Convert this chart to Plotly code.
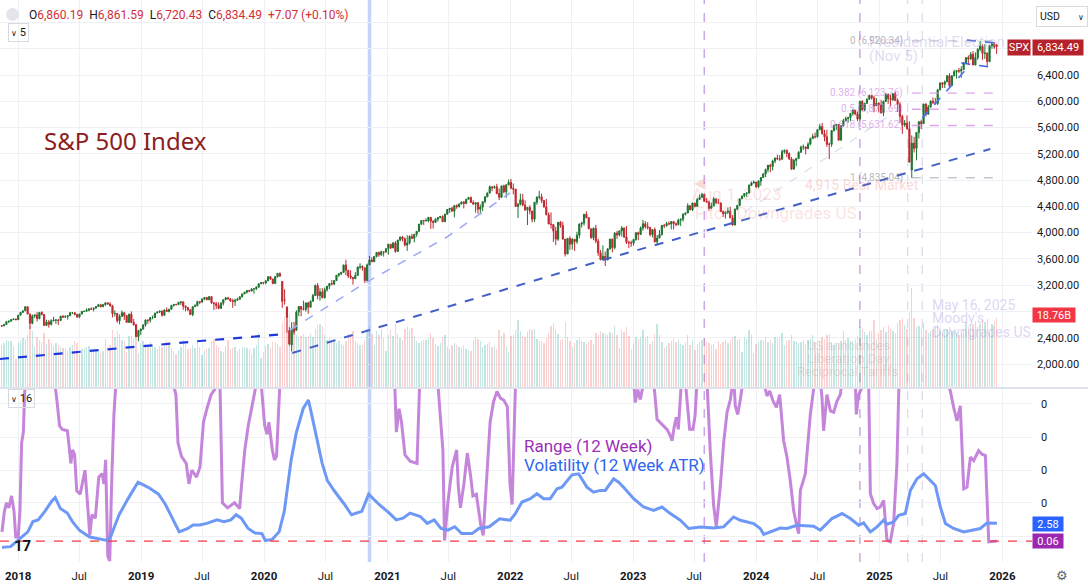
import numpy as np
import pandas as pd
import plotly.graph_objects as go

FONT = "Roboto, 'Noto Sans', sans-serif"
W_PLOT, H_PLOT = 1032, 562   # plot area in px, figure is 1088 x 587

# ---- weekly S&P 500 bars, first week starts 2017-11-13 ----
opens = [
    2583, 2579, 2602, 2642, 2652, 2676, 2684,
    2674, 2743, 2786, 2810, 2873, 2762, 2620, 2732, 2747, 2691, 2786, 2752, 2588, 2641, 2604, 2656, 2670, 2670, 2663, 2728, 2713, 2721, 2735, 2779, 2780, 2755, 2718, 2760, 2801, 2802, 2819, 2840, 2833, 2850, 2875, 2902, 2872, 2904, 2930, 2914, 2886, 2767, 2768, 2659, 2723, 2781, 2736, 2633, 2760, 2633, 2600, 2417, 2507,
    2532, 2596, 2671, 2665, 2707, 2708, 2776, 2793, 2804, 2743, 2822, 2800, 2834, 2893, 2907, 2905, 2940, 2946, 2881, 2860, 2826, 2752, 2873, 2887, 2950, 2942, 2990, 3014, 2977, 3026, 2932, 2919, 2889, 2847, 2926, 2979, 3007, 2992, 2962, 2952, 2970, 2986, 3023, 3067, 3093, 3120, 3110, 3141, 3146, 3169, 3221, 3240,
    3235, 3265, 3330, 3295, 3226, 3328, 3380, 3257, 2974, 2864, 2509, 2290, 2541, 2514, 2790, 2875, 2837, 2831, 2930, 2864, 2955, 3044, 3194, 3041, 3098, 3009, 3130, 3185, 3225, 3216, 3271, 3351, 3373, 3397, 3508, 3427, 3341, 3319, 3298, 3348, 3477, 3484, 3465, 3270, 3509, 3585, 3558, 3638, 3699, 3663, 3709, 3703,
    3756, 3825, 3768, 3841, 3714, 3887, 3934, 3907, 3811, 3842, 3943, 3913, 3975, 4020, 4129, 4185, 4180, 4181, 4233, 4174, 4156, 4204, 4230, 4247, 4166, 4281, 4352, 4370, 4327, 4412, 4395, 4437, 4468, 4442, 4509, 4535, 4459, 4433, 4455, 4357, 4391, 4471, 4545, 4605, 4697, 4683, 4698, 4595, 4538, 4712, 4621, 4726,
    4766, 4677, 4663, 4398, 4432, 4501, 4419, 4349, 4385, 4329, 4204, 4463, 4543, 4546, 4488, 4392, 4272, 4132, 4123, 4024, 3901, 4158, 4109, 3901, 3675, 3912, 3825, 3899, 3863, 3962, 4130, 4145, 4280, 4228, 4058, 3924, 4067, 3873, 3693, 3586, 3640, 3583, 3753, 3901, 3771, 3993, 3965, 4026, 4072, 3934, 3852, 3845,
    3840, 3895, 3999, 3973, 4071, 4136, 4090, 4079, 3970, 4046, 3862, 3917, 3971, 4109, 4105, 4138, 4133, 4169, 4136, 4124, 4192, 4205, 4282, 4299, 4410, 4348, 4450, 4399, 4505, 4536, 4582, 4478, 4464, 4370, 4406, 4516, 4457, 4450, 4320, 4288, 4309, 4328, 4224, 4117, 4358, 4415, 4514, 4559, 4595, 4604, 4719, 4755,
    4770, 4697, 4784, 4840, 4891, 4959, 5027, 5006, 5089, 5137, 5124, 5117, 5234, 5254, 5204, 5123, 4967, 5100, 5128, 5223, 5303, 5305, 5278, 5347, 5432, 5465, 5460, 5567, 5615, 5505, 5459, 5346, 5344, 5554, 5634, 5648, 5408, 5626, 5703, 5738, 5751, 5815, 5865, 5808, 5729, 5996, 5870, 5970, 6032, 6090, 6051, 5931, 5971,
    5942, 5827, 5997, 6101, 6041, 6026, 6115, 6013, 5955, 5770, 5639, 5668, 5581, 4953, 5363, 5283, 5525, 5687, 5660, 5958, 5803, 5912, 6000, 5977, 5967, 6173, 6280, 6259, 6297, 6389, 6238, 6389, 6450, 6467, 6460, 6482, 6584, 6664, 6644, 6716, 6553, 6664, 6792, 6840, 6729, 6734, 6603, 6849, 6870, 6860.19,
]
highs = [
    2590, 2605, 2657, 2660, 2680, 2695, 2692,
    2743, 2787, 2810, 2873, 2873, 2763, 2754, 2747, 2789, 2786, 2802, 2761, 2674, 2672, 2680, 2718, 2682, 2683, 2732, 2743, 2742, 2736, 2791, 2790, 2790, 2764, 2764, 2804, 2812, 2848, 2841, 2863, 2856, 2877, 2916, 2916, 2912, 2941, 2939, 2940, 2894, 2817, 2779, 2756, 2815, 2795, 2747, 2760, 2800, 2685, 2601, 2520, 2538,
    2597, 2675, 2670, 2708, 2738, 2776, 2795, 2814, 2816, 2831, 2861, 2836, 2894, 2910, 2916, 2940, 2954, 2931, 2892, 2865, 2829, 2876, 2910, 2964, 2955, 2996, 3014, 3018, 3028, 3027, 2943, 2943, 2939, 2940, 2985, 3021, 3022, 3002, 2993, 2993, 3008, 3027, 3068, 3098, 3121, 3127, 3154, 3146, 3183, 3226, 3247, 3246,
    3282, 3330, 3338, 3293, 3341, 3385, 3393, 3259, 3137, 2882, 2562, 2637, 2641, 2819, 2880, 2871, 2965, 2934, 2946, 2968, 3068, 3211, 3233, 3155, 3155, 3165, 3187, 3233, 3280, 3272, 3352, 3387, 3399, 3510, 3588, 3425, 3428, 3320, 3398, 3482, 3534, 3502, 3464, 3529, 3645, 3628, 3645, 3699, 3712, 3726, 3712, 3760,
    3827, 3824, 3860, 3870, 3887, 3937, 3950, 3928, 3960, 3960, 3983, 3978, 4020, 4130, 4191, 4195, 4219, 4238, 4236, 4187, 4219, 4233, 4255, 4262, 4287, 4355, 4372, 4394, 4415, 4430, 4441, 4468, 4480, 4513, 4546, 4549, 4492, 4465, 4466, 4429, 4475, 4559, 4608, 4718, 4706, 4718, 4743, 4672, 4713, 4731, 4740, 4808,
    4818, 4749, 4632, 4453, 4595, 4590, 4490, 4386, 4417, 4327, 4465, 4546, 4637, 4594, 4471, 4513, 4308, 4308, 4082, 4090, 4158, 4177, 4168, 3838, 3913, 3946, 3919, 3876, 4013, 4140, 4167, 4281, 4325, 4203, 4062, 4077, 4119, 3907, 3736, 3807, 3712, 3762, 3905, 3911, 4008, 4028, 4034, 4100, 4053, 4101, 3878, 3878,
    3906, 4003, 4015, 4095, 4195, 4176, 4160, 4072, 4049, 4078, 3964, 4040, 4110, 4133, 4164, 4170, 4170, 4167, 4154, 4212, 4212, 4291, 4299, 4448, 4400, 4458, 4456, 4527, 4578, 4607, 4584, 4528, 4490, 4458, 4541, 4518, 4511, 4462, 4338, 4324, 4385, 4394, 4268, 4367, 4415, 4520, 4560, 4596, 4609, 4738, 4778, 4793,
    4754, 4798, 4842, 4907, 4976, 5030, 5048, 5111, 5140, 5189, 5180, 5262, 5265, 5264, 5222, 5151, 5123, 5139, 5239, 5325, 5342, 5315, 5376, 5447, 5506, 5524, 5570, 5655, 5669, 5567, 5566, 5370, 5563, 5643, 5651, 5651, 5636, 5733, 5767, 5765, 5822, 5878, 5862, 5843, 6012, 6018, 5972, 6044, 6099, 6089, 6086, 6049, 5986,
    6022, 6012, 6128, 6120, 6101, 6127, 6147, 6043, 5986, 5795, 5715, 5786, 5695, 5481, 5460, 5528, 5700, 5720, 5959, 5969, 5944, 6017, 6059, 6050, 6187, 6285, 6291, 6316, 6395, 6428, 6396, 6481, 6470, 6509, 6533, 6600, 6671, 6699, 6750, 6764, 6744, 6808, 6920, 6868, 6870, 6743, 6853, 6895, 6901, 6861.59,
]
lows = [
    2566, 2576, 2598, 2624, 2650, 2676, 2673,
    2673, 2743, 2780, 2808, 2759, 2533, 2605, 2699, 2647, 2681, 2742, 2585, 2585, 2553, 2586, 2652, 2612, 2594, 2655, 2707, 2707, 2676, 2735, 2760, 2742, 2699, 2698, 2757, 2790, 2800, 2802, 2825, 2802, 2848, 2873, 2864, 2868, 2886, 2903, 2874, 2710, 2723, 2628, 2604, 2722, 2671, 2631, 2631, 2621, 2583, 2409, 2346, 2443,
    2524, 2570, 2612, 2631, 2681, 2700, 2773, 2775, 2722, 2732, 2800, 2785, 2848, 2873, 2891, 2896, 2900, 2825, 2801, 2805, 2750, 2729, 2874, 2881, 2912, 2964, 2970, 2975, 2975, 2914, 2822, 2836, 2834, 2853, 2891, 2978, 2985, 2946, 2855, 2884, 2959, 2983, 3013, 3066, 3075, 3092, 3115, 3070, 3125, 3184, 3223, 3212,
    3214, 3263, 3281, 3214, 3234, 3315, 3328, 2855, 2902, 2478, 2280, 2192, 2447, 2630, 2728, 2727, 2816, 2798, 2766, 2904, 2969, 3038, 2984, 2965, 3000, 3000, 3102, 3142, 3200, 3204, 3284, 3327, 3354, 3387, 3349, 3310, 3292, 3209, 3297, 3355, 3441, 3420, 3233, 3279, 3511, 3551, 3576, 3622, 3633, 3647, 3636, 3706,
    3663, 3750, 3764, 3694, 3716, 3870, 3866, 3789, 3723, 3819, 3900, 3853, 3936, 4026, 4118, 4118, 4173, 4157, 4056, 4062, 4155, 4168, 4217, 4164, 4173, 4274, 4300, 4321, 4233, 4363, 4385, 4429, 4368, 4442, 4513, 4455, 4427, 4306, 4288, 4278, 4329, 4447, 4540, 4595, 4630, 4672, 4585, 4495, 4531, 4600, 4531, 4733,
    4662, 4582, 4395, 4222, 4414, 4402, 4330, 4115, 4279, 4157, 4162, 4424, 4506, 4450, 4381, 4267, 4129, 4062, 3859, 3810, 3876, 4074, 3900, 3637, 3705, 3738, 3742, 3722, 3830, 3913, 4079, 4107, 4218, 4057, 3907, 3886, 3837, 3647, 3584, 3636, 3492, 3590, 3738, 3699, 3745, 3906, 3942, 3938, 3918, 3827, 3764, 3784,
    3802, 3877, 3885, 3968, 4031, 4060, 4048, 3943, 3928, 3847, 3809, 3917, 3955, 4069, 4092, 4114, 4049, 4048, 4098, 4109, 4103, 4167, 4261, 4328, 4341, 4328, 4385, 4397, 4501, 4528, 4474, 4457, 4335, 4356, 4403, 4432, 4447, 4316, 4238, 4216, 4284, 4223, 4104, 4112, 4341, 4402, 4514, 4537, 4546, 4599, 4709, 4751,
    4682, 4682, 4714, 4844, 4845, 4918, 4920, 4946, 5057, 5104, 5091, 5114, 5203, 5146, 5107, 4953, 4990, 5011, 5142, 5218, 5257, 5191, 5279, 5330, 5446, 5434, 5445, 5570, 5497, 5390, 5306, 5120, 5306, 5540, 5561, 5403, 5403, 5614, 5703, 5674, 5700, 5782, 5786, 5697, 5696, 5853, 5853, 5960, 6024, 6025, 5832, 5933, 5829,
    5809, 5773, 5990, 5962, 5923, 6004, 6008, 5837, 5667, 5505, 5611, 5572, 5069, 4835, 5220, 5101, 5434, 5578, 5786, 5768, 5809, 5907, 5963, 5949, 5944, 6172, 6201, 6202, 6290, 6212, 6251, 6380, 6344, 6431, 6360, 6480, 6570, 6551, 6631, 6550, 6550, 6632, 6760, 6631, 6646, 6521, 6600, 6799, 6800, 6720.43,
]
closes = [
    2579, 2602, 2642, 2652, 2676, 2684, 2674,
    2743, 2786, 2810, 2873, 2762, 2620, 2732, 2747, 2691, 2786, 2752, 2588, 2641, 2604, 2656, 2670, 2670, 2663, 2728, 2713, 2721, 2735, 2779, 2780, 2755, 2718, 2760, 2801, 2802, 2819, 2840, 2833, 2850, 2875, 2902, 2872, 2904, 2930, 2914, 2886, 2767, 2768, 2659, 2723, 2781, 2736, 2633, 2760, 2633, 2600, 2417, 2507, 2532,
    2596, 2671, 2665, 2707, 2708, 2776, 2793, 2804, 2743, 2822, 2800, 2834, 2893, 2907, 2905, 2940, 2946, 2881, 2860, 2826, 2752, 2873, 2887, 2950, 2942, 2990, 3014, 2977, 3026, 2932, 2919, 2889, 2847, 2926, 2979, 3007, 2992, 2962, 2952, 2970, 2986, 3023, 3067, 3093, 3120, 3110, 3141, 3146, 3169, 3221, 3240, 3235,
    3265, 3330, 3295, 3226, 3328, 3380, 3338, 2954, 2972, 2711, 2305, 2541, 2489, 2790, 2875, 2837, 2831, 2930, 2864, 2955, 3044, 3194, 3041, 3098, 3009, 3130, 3185, 3225, 3216, 3271, 3351, 3373, 3397, 3508, 3427, 3341, 3319, 3298, 3348, 3477, 3484, 3465, 3270, 3509, 3585, 3558, 3638, 3699, 3663, 3709, 3703, 3756,
    3825, 3768, 3841, 3714, 3887, 3934, 3907, 3811, 3842, 3943, 3913, 3975, 4020, 4129, 4185, 4180, 4181, 4233, 4174, 4156, 4204, 4230, 4247, 4166, 4281, 4352, 4370, 4327, 4412, 4395, 4437, 4468, 4442, 4509, 4535, 4459, 4433, 4455, 4357, 4391, 4471, 4545, 4605, 4697, 4683, 4698, 4595, 4538, 4712, 4621, 4726, 4766,
    4677, 4663, 4398, 4432, 4501, 4419, 4349, 4385, 4329, 4204, 4463, 4543, 4546, 4488, 4392, 4272, 4132, 4123, 4024, 3901, 4158, 4109, 3901, 3675, 3912, 3825, 3899, 3863, 3962, 4130, 4145, 4280, 4228, 4058, 3924, 4067, 3873, 3693, 3586, 3640, 3583, 3753, 3901, 3771, 3993, 3965, 4026, 4072, 3934, 3852, 3845, 3840,
    3895, 3999, 3973, 4071, 4136, 4090, 4079, 3970, 4046, 3862, 3917, 3971, 4109, 4105, 4138, 4133, 4169, 4136, 4124, 4192, 4205, 4282, 4299, 4410, 4348, 4450, 4399, 4505, 4536, 4582, 4478, 4464, 4370, 4406, 4516, 4457, 4450, 4320, 4288, 4309, 4328, 4224, 4117, 4358, 4415, 4514, 4559, 4595, 4604, 4719, 4755, 4770,
    4697, 4784, 4840, 4891, 4959, 5027, 5006, 5089, 5137, 5124, 5117, 5234, 5254, 5204, 5123, 4967, 5100, 5128, 5223, 5303, 5305, 5278, 5347, 5432, 5465, 5460, 5567, 5615, 5505, 5459, 5346, 5344, 5554, 5634, 5648, 5408, 5626, 5703, 5738, 5751, 5815, 5865, 5808, 5729, 5996, 5870, 5970, 6032, 6090, 6051, 5931, 5971, 5942,
    5827, 5997, 6101, 6041, 6026, 6115, 6013, 5955, 5770, 5639, 5668, 5581, 5074, 5363, 5283, 5525, 5687, 5660, 5958, 5803, 5912, 6000, 5977, 5967, 6173, 6280, 6259, 6297, 6389, 6238, 6389, 6450, 6467, 6460, 6482, 6584, 6664, 6644, 6716, 6553, 6664, 6792, 6840, 6729, 6734, 6603, 6849, 6870, 6827.42, 6834.49,
]
# weekly volume, billions
volume_b = [
    11.5, 12.0, 12.8, 12.4, 12.6, 11.2, 7.5,
    12.0, 12.6, 13.2, 13.0, 14.0, 16.5, 15.2, 11.0, 13.5, 12.8, 12.2, 14.8, 11.8, 13.0, 11.9, 11.2, 12.0, 11.4, 11.0, 10.6, 10.2, 9.9, 11.0, 11.3, 12.6, 12.0, 9.0, 10.4, 10.6, 10.8, 11.1, 10.4, 10.2, 9.7, 10.0, 9.3, 9.9, 13.0, 10.8, 11.4, 15.6, 13.5, 15.2, 14.4, 12.9, 12.6, 9.5, 13.8, 13.9, 13.1, 16.2, 9.2, 12.0,
    12.4, 11.8, 10.9, 12.1, 11.3, 11.0, 10.2, 11.2, 11.0, 11.5, 12.9, 11.3, 10.5, 9.8, 8.9, 10.1, 11.0, 12.8, 11.9, 10.4, 10.5, 11.3, 10.6, 12.4, 10.8, 8.6, 9.9, 10.4, 10.5, 12.4, 13.0, 11.4, 10.8, 9.7, 9.5, 11.2, 12.9, 10.2, 10.6, 10.9, 9.9, 10.3, 11.0, 10.8, 10.5, 10.4, 8.9, 10.6, 11.4, 14.6, 8.0, 9.4,
    11.2, 11.8, 10.6, 12.3, 12.1, 11.6, 10.9, 17.5, 18.9, 19.4, 19.8, 17.2, 14.9, 14.1, 13.5, 13.9, 14.3, 13.6, 13.9, 14.5, 13.7, 15.8, 16.9, 17.2, 16.6, 14.1, 12.9, 13.4, 12.8, 13.1, 11.9, 12.4, 11.7, 11.5, 12.6, 14.5, 13.6, 15.3, 12.4, 12.0, 11.4, 11.5, 12.9, 15.8, 16.7, 14.3, 11.5, 15.2, 14.0, 15.7, 13.3, 9.8,
    14.2, 15.4, 13.8, 17.0, 14.5, 13.2, 12.8, 15.9, 16.3, 15.5, 16.0, 13.9, 12.4, 12.0, 12.5, 12.9, 12.7, 13.4, 14.6, 13.2, 11.6, 11.2, 12.0, 13.6, 14.2, 11.0, 10.4, 11.3, 12.0, 11.5, 10.9, 10.6, 11.5, 10.4, 10.1, 9.9, 12.9, 13.6, 13.1, 12.4, 11.0, 11.3, 11.8, 12.3, 11.0, 11.2, 10.2, 15.6, 13.8, 14.7, 10.9, 9.5,
    13.9, 14.1, 15.6, 18.2, 15.3, 13.8, 13.6, 14.9, 15.8, 15.6, 15.9, 13.1, 12.4, 12.6, 11.9, 13.3, 14.8, 16.5, 17.3, 15.8, 14.3, 12.9, 13.1, 17.6, 13.5, 12.6, 10.8, 12.0, 12.8, 13.3, 12.6, 12.3, 11.8, 12.1, 12.8, 11.7, 14.6, 14.0, 15.3, 14.8, 14.5, 14.2, 14.9, 14.6, 16.5, 14.1, 10.5, 15.5, 14.9, 16.3, 13.8, 10.4,
    11.8, 13.6, 13.0, 13.5, 15.5, 13.3, 13.9, 11.6, 12.5, 14.4, 17.0, 14.1, 12.3, 10.6, 11.1, 11.9, 12.6, 13.4, 12.2, 12.9, 11.6, 11.4, 11.9, 14.2, 11.5, 12.7, 10.0, 11.6, 12.3, 12.8, 13.4, 12.2, 11.9, 11.5, 11.6, 10.3, 12.4, 11.8, 12.2, 12.8, 12.0, 12.9, 13.6, 13.9, 12.8, 13.1, 9.4, 13.6, 13.0, 15.6, 14.0, 9.2,
    11.7, 12.2, 12.8, 12.4, 13.5, 12.1, 12.8, 12.0, 13.6, 13.3, 13.5, 14.8, 11.4, 12.4, 12.7, 14.1, 12.5, 12.1, 11.9, 12.3, 12.8, 11.6, 12.7, 13.0, 14.1, 12.3, 10.4, 12.6, 13.5, 13.0, 14.2, 14.4, 12.3, 11.4, 11.6, 12.0, 12.4, 15.1, 12.8, 13.3, 12.6, 12.5, 13.0, 13.8, 16.2, 15.9, 15.0, 14.1, 15.3, 15.1, 18.3, 13.0, 14.6,
    15.5, 16.4, 15.0, 16.8, 15.7, 15.2, 14.6, 17.4, 18.1, 18.8, 16.9, 15.8, 20.4, 27.0, 18.7, 16.2, 16.5, 16.0, 17.3, 15.4, 14.6, 15.1, 15.7, 16.4, 16.9, 15.3, 14.8, 15.6, 15.9, 16.2, 15.3, 15.0, 14.7, 14.2, 14.5, 15.6, 17.8, 16.3, 16.9, 17.2, 17.9, 16.4, 17.1, 18.2, 17.6, 18.5, 15.0, 17.0, 17.9, 18.76,
]

# ---- lower pane: 12 week indicators, read at turning points (decimal year, value) ----
range_t = [
    2017.868, 2017.888, 2017.904, 2017.924, 2017.946, 2017.966, 2017.98, 2018.0, 2018.014, 2018.028, 2018.042, 2018.056, 2018.176,
    2018.296, 2018.316, 2018.336, 2018.358, 2018.4, 2018.414, 2018.428, 2018.442, 2018.459, 2018.476, 2018.504, 2018.526, 2018.543,
    2018.56, 2018.582, 2018.599, 2018.627, 2018.655, 2018.683, 2018.697, 2018.711, 2018.728, 2018.744, 2018.761, 2018.778, 2018.795,
    2019.03, 2019.254, 2019.282, 2019.299, 2019.327, 2019.366, 2019.388, 2019.411, 2019.45, 2019.478, 2019.506, 2019.534, 2019.568,
    2019.604, 2019.626, 2019.633, 2019.64, 2019.66, 2019.702, 2019.758, 2019.8, 2019.814, 2019.842, 2019.87, 2019.912, 2019.94,
    2019.957, 2019.974, 2020.004, 2020.024, 2020.038, 2020.066, 2020.083, 2020.1, 2020.128, 2020.6, 2021.06, 2021.074, 2021.096,
    2021.116, 2021.144, 2021.186, 2021.242, 2021.264, 2021.34, 2021.41, 2021.452, 2021.466, 2021.494, 2021.528, 2021.564, 2021.578,
    2021.595, 2021.623, 2021.651, 2021.679, 2021.696, 2021.724, 2021.76, 2021.78, 2021.808, 2021.836, 2021.864, 2021.892, 2021.92,
    2021.948, 2021.976, 2021.998, 2022.015, 2022.043, 2022.46, 2023.003, 2023.016, 2023.036, 2023.057, 2023.084, 2023.125, 2023.166,
    2023.193, 2023.233, 2023.274, 2023.301, 2023.315, 2023.334, 2023.35, 2023.366, 2023.388, 2023.404, 2023.423, 2023.442, 2023.458,
    2023.485, 2023.502, 2023.518, 2023.559, 2023.599, 2023.626, 2023.653, 2023.675, 2023.708, 2023.735, 2023.762, 2023.789, 2023.81,
    2023.82, 2023.829, 2023.849, 2023.87, 2023.892, 2023.979, 2024.06, 2024.087, 2024.109, 2024.136, 2024.163, 2024.19, 2024.222,
    2024.249, 2024.276, 2024.303, 2024.33, 2024.344, 2024.358, 2024.398, 2024.439, 2024.466, 2024.48, 2024.5, 2024.52, 2024.534,
    2024.547, 2024.561, 2024.574, 2024.602, 2024.629, 2024.656, 2024.683, 2024.696, 2024.75, 2024.805, 2024.813, 2024.832, 2024.859,
    2024.873, 2024.894, 2024.913, 2024.927, 2024.954, 2024.981, 2025.008, 2025.035, 2025.062, 2025.089, 2025.116, 2025.143, 2025.16,
    2025.36, 2025.55, 2025.577, 2025.604, 2025.631, 2025.658, 2025.672, 2025.686, 2025.713, 2025.74, 2025.767, 2025.807, 2025.835,
    2025.862, 2025.889, 2025.92, 2025.956,
]
range_v = [
    1.36, 4.25, 5.46, 4.74, 6.43, 4.25, 0.63, 0.63, 4.25, 13.9, 15.4, 22.6, 32,
    22.6, 19.7, 16.3, 15.8, 15.6, 13.4, 11.0, 12.9, 12.2, 7.15, 6.67, 8.6, 10.05,
    6.2, 0.87, 3.77, 3.29, 9.08, 9.56, 8.12, 11.5, -2.02, -2.75, 9.08, 17.8, 22.6,
    32, 22.6, 20.7, 13.9, 12.0, 11.0, 8.12, 10.05, 9.08, 10.5, 16.8, 18.7, 20.7,
    21.6, 22.6, 26, 22.4, 5.46, 4.74, 5.46, 4.64, 7.63, 12.9, 16.3, 20.2, 22.6,
    26, 22.6, 16.3, 15.1, 16.8, 12.9, 11.5, 12.0, 22.6, 32, 22.6, 15.4, 18.7,
    16.8, 12.2, 11.3, 11.0, 22.6, 32, 22.6, 12.9, 0.15, 5.7, 10.5, 12.9, 7.63,
    4.74, 8.12, 12.46, 9.08, 6.43, 6.67, 2.32, 0.87, 8.12, 16.8, 19.7, 21.15, 20.2,
    19.9, 19.0, 8.12, 5.22, 22.6, 32, 22.6, 19.57, 21.4, 20.0, 22.6, 26, 22.6,
    17.2, 16.5, 15.8, 14.9, 14.2, 16.3, 17.5, 15.8, 22.6, 26, 22.6, 19.1, 15.8,
    15.8, 17.7, 22.6, 26, 22.6, 12.6, 5.1, 2.07, 7.9, 14.0, 18.2, 20.0, 22.6,
    22.0, 19.1, 17.9, 20.0, 22.6, 28, 22.6, 20.5, 21.2, 19.8, 18.9, 20.7, 14.2,
    11.9, 8.6, 4.4, 2.1, 1.1, 7.2, 9.5, 17.9, 21.2, 22.6, 26, 22.6, 20.3,
    15.6, 17.9, 20.7, 18.4, 18.2, 19.8, 20.7, 22.6, 28, 22.6, 17.9, 20.7, 21.7,
    22.6, 26, 22.6, 6.73, 5.33, 4.63, 4.87, 5.8, 0.2, -0.03, 2.53, 10.9, 22.6,
    32, 22.6, 21.2, 18.9, 17.0, 19.1, 13.7, 7.43, 7.67, 11.9, 11.4, 12.8, 12.3,
    12.1, -0.03, 0.0, 0.06,
]
atr_t = [
    2017.868, 2017.938, 2018.078, 2018.12, 2018.162, 2018.217, 2018.273, 2018.301, 2018.343, 2018.399, 2018.441, 2018.497,
    2018.581, 2018.665, 2018.722, 2018.75, 2018.82, 2018.89, 2018.974, 2019.057, 2019.141, 2019.197, 2019.253, 2019.309,
    2019.379, 2019.421, 2019.477, 2019.533, 2019.617, 2019.673, 2019.729, 2019.771, 2019.813, 2019.869, 2019.925, 2019.981,
    2020.009, 2020.065, 2020.121, 2020.163, 2020.219, 2020.261, 2020.317, 2020.359, 2020.387, 2020.429, 2020.471, 2020.513,
    2020.569, 2020.653, 2020.709, 2020.793, 2020.849, 2020.933, 2021.017, 2021.073, 2021.129, 2021.185, 2021.269, 2021.325,
    2021.381, 2021.437, 2021.493, 2021.549, 2021.605, 2021.689, 2021.745, 2021.829, 2021.913, 2022.0, 2022.041, 2022.095,
    2022.163, 2022.217, 2022.271, 2022.325, 2022.38, 2022.42, 2022.461, 2022.502, 2022.555, 2022.583, 2022.623, 2022.677,
    2022.732, 2022.772, 2022.84, 2022.881, 2022.921, 2023.003, 2023.084, 2023.165, 2023.233, 2023.301, 2023.382, 2023.45,
    2023.545, 2023.653, 2023.734, 2023.815, 2023.87, 2023.978, 2024.032, 2024.06, 2024.114, 2024.195, 2024.249, 2024.331,
    2024.466, 2024.52, 2024.615, 2024.697, 2024.764, 2024.832, 2024.872, 2024.927, 2024.981, 2025.035, 2025.062, 2025.116,
    2025.157, 2025.211, 2025.252, 2025.306, 2025.36, 2025.415, 2025.455, 2025.496, 2025.537, 2025.604, 2025.686, 2025.753,
    2025.821, 2025.875, 2025.956,
]
atr_v = [
    -0.82, -0.72, 1.36, 2.81, 3.05, 4.25, 5.70, 6.18, 4.64, 4.01, 2.81, 1.60,
    0.63, 0.39, 0.15, 0.63, 3.77, 5.94, 8.36, 7.63, 6.67, 5.22, 3.29, 1.36,
    1.84, 2.32, 2.32, 2.56, 3.05, 2.81, 3.05, 3.77, 3.29, 1.84, 1.21, 1.12,
    0.15, 0.30, 1.36, 4.25, 11.50, 15.36, 18.74, 19.94, 17.77, 14.39, 11.01, 8.60,
    7.15, 5.22, 3.77, 4.25, 6.67, 5.22, 4.01, 3.05, 3.29, 4.01, 3.53, 2.56,
    3.05, 1.84, 1.60, 2.08, 1.12, 1.12, 1.84, 2.08, 3.2, 3.0, 3.94, 5.56,
    6.04, 6.74, 6.04, 6.04, 7.44, 7.66, 8.6, 9.4, 9.54, 8.84, 7.66, 6.96,
    7.2, 7.2, 8.84, 8.36, 7.66, 6.04, 4.86, 4.4, 4.86, 3.94, 3.0, 1.84,
    2.06, 1.92, 2.06, 3.46, 3.0, 2.54, 1.84, 1.0, 1.36, 1.9, 1.84, 2.3,
    2.16, 1.6, 3.24, 3.94, 3.24, 2.3, 2.62, 1.36, 2.06, 3.0, 2.44, 2.76,
    3.7, 3.94, 7.2, 8.84, 9.54, 8.6, 7.9, 4.86, 2.54, 1.84, 1.36, 1.6,
    1.84, 2.62, 2.58,
]

# ---- drawings ----
fib_levels = [6920.34, 6123.76, 5877.69, 5631.62, 4835.04]
fib_names = ["0", "0.382", "0.5", "0.618", "1"]
fib_span = ["2025-04-07", "2025-12-29"]

trend_a = (["2017-11-08", "2018-08-31", "2019-06-24", "2020-03-09"], [2076, 2213, 2350, 2457])
trend_b = (["2020-03-25", "2020-10-22", "2021-06-27", "2022-02-28", "2022-11-02", "2023-10-24", "2025-04-03", "2025-11-26"],
           [2168, 2487, 2868, 3249, 3629, 4147, 4923, 5274])
trend_c = (["2020-03-18", "2020-10-27", "2021-06-27", "2021-12-31"], [2518, 3233, 3934, 4604])
trend_d = (["2025-05-08", "2025-09-27"], [5745, 6552])
trend_faint = (["2023-11-28", "2025-03-18"], [4314, 5940])
wedge_top = (["2025-09-18", "2025-12-13"], [6933, 6887])
wedge_low = (["2025-09-01", "2025-12-16"], [6583, 6507])

event_dates = ["2020-11-09", "2023-07-31", "2024-11-04", "2025-03-26", "2025-05-08"]

n = min(len(opens), len(highs), len(lows), len(closes), len(volume_b))
weeks = pd.date_range("2017-11-13", periods=n, freq="7D")


def dec_year(ts):
    return pd.to_datetime("2018-01-01") + pd.to_timedelta((np.array(ts) - 2018) * 365.25, unit="D")


def px(x, y):
    return x / W_PLOT, (H_PLOT - y) / H_PLOT


def note(x, y, text, size=11, color="#131722", xanchor="left", yanchor="middle", family=FONT, **kw):
    xp, yp = px(x, y)
    return dict(x=xp, y=yp, xref="paper", yref="paper", text=text, showarrow=False,
                font=dict(size=size, color=color, family=family), xanchor=xanchor, yanchor=yanchor, **kw)


fig = go.Figure()

# volume (base axis, behind candles)
vol_colors = ["rgba(38,166,154,0.28)" if c >= o else "rgba(239,83,80,0.26)"
              for o, c in zip(opens[:n], closes[:n])]
fig.add_trace(go.Bar(x=weeks, y=volume_b[:n], marker=dict(color=vol_colors, line_width=0),
                     width=4 * 86400000, yaxis="y", hoverinfo="skip"))

# trend lines
def dashed(line, color, width, dash="dash"):
    fig.add_trace(go.Scatter(x=line[0], y=line[1], mode="lines", yaxis="y3", hoverinfo="skip",
                             line=dict(color=color, width=width, dash=dash)))

dashed(trend_faint, "rgba(170,185,225,0.45)", 1.2)
dashed(trend_c, "#a3aaf5", 1.6)
dashed(trend_a, "#2038e0", 2.2)
dashed(trend_b, "#4260c8", 2.0)
dashed(trend_d, "#4a74f0", 1.6)
dashed(wedge_top, "#3a66e8", 1.6)
dashed(wedge_low, "#3a66e8", 1.6)

# fib levels
for name, lvl in zip(fib_names, fib_levels):
    col = "rgba(150,150,170,0.55)" if name in ("0", "1") else "rgba(214,150,232,0.85)"
    fig.add_trace(go.Scatter(x=fib_span, y=[lvl, lvl], mode="lines", yaxis="y3", hoverinfo="skip",
                             line=dict(color=col, width=1.4, dash="dash")))

# candles
fig.add_trace(go.Candlestick(
    x=weeks, open=opens[:n], high=highs[:n], low=lows[:n], close=closes[:n], yaxis="y3",
    increasing=dict(line=dict(color="#1c7430", width=1), fillcolor="#1c7430"),
    decreasing=dict(line=dict(color="#c2272f", width=1), fillcolor="#c2272f"),
    whiskerwidth=0, hoverinfo="skip"))

# lower pane
fig.add_trace(go.Scatter(x=dec_year(range_t), y=range_v, mode="lines", yaxis="y2", hoverinfo="skip",
                         line=dict(color="rgba(190,120,215,0.9)", width=3)))
fig.add_trace(go.Scatter(x=dec_year(atr_t), y=atr_v, mode="lines", yaxis="y2", hoverinfo="skip",
                         line=dict(color="#6e98f6", width=3)))

shapes = []
# event markers
styles = [("rgba(175,198,245,0.75)", 3.5, "solid"),
          ("rgba(196,160,232,0.9)", 1.5, "dash"),
          ("rgba(196,160,232,0.9)", 1.5, "dash"),
          ("rgba(205,205,228,0.9)", 1.0, "dash"),
          ("rgba(205,205,228,0.9)", 1.0, "dash")]
for d, (c, w, ds) in zip(event_dates, styles):
    shapes.append(dict(type="line", xref="x", yref="paper", x0=d, x1=d, y0=0, y1=1,
                       line=dict(color=c, width=w, dash=ds), layer="below"))
# pane separator and current-range price line
shapes.append(dict(type="line", xref="paper", yref="paper", x0=0, x1=1088 / W_PLOT,
                   y0=px(0, 388)[1], y1=px(0, 388)[1], line=dict(color="#dfe2ea", width=2)))
shapes.append(dict(type="line", xref="paper", yref="y2", x0=0, x1=1, y0=range_v[-1], y1=range_v[-1],
                   line=dict(color="#f23645", width=1.3, dash="dash")))
# legend bullet
shapes.append(dict(type="circle", xref="paper", yref="paper", x0=px(6, 0)[0], x1=px(19, 0)[0],
                   y0=px(0, 21)[1], y1=px(0, 8)[1], fillcolor="#e3e5ea", line_width=0))

up = "#d12e37"
chg = closes[n - 1] - closes[n - 2]
legend_txt = (f"O<span style='color:{up}'>{opens[n-1]:,.2f}</span>  H<span style='color:{up}'>{highs[n-1]:,.2f}</span>  "
              f"L<span style='color:{up}'>{lows[n-1]:,.2f}</span>  C<span style='color:{up}'>{closes[n-1]:,.2f}</span>  "
              f"<span style='color:{up}'>{chg:+.2f} ({chg / closes[n-2] * 100:+.2f}%)</span>")

ann = [
    note(27, 15, legend_txt, size=12),
    note(8, 33, "<span style='font-size:8px'>∨</span> 5", size=11, bordercolor="#d7dae0", borderwidth=1, borderpad=2),
    note(8, 398, "<span style='font-size:8px'>∨</span> 16", size=11, bordercolor="#d7dae0", borderwidth=1, borderpad=2),
    note(1036, 16, "USD       <span style='font-size:8px'>∨</span>", size=10.5, bordercolor="#d7dae0", borderwidth=1, borderpad=3,
         bgcolor="white"),
    note(42, 140, "S&P 500 Index", size=24, color="#8c1d1d", family="'Noto Sans', sans-serif"),
    note(522, 446, "Range (12 Week)", size=17, color="#9b2fb5"),
    note(522, 465, "Volatility (12 Week ATR)", size=17, color="#2f66f0"),
    # faded event notes
    note(867, 42, "Presidential Election", size=15, color="rgba(170,150,215,0.35)"),
    note(867, 56, "(Nov 5)", size=15, color="rgba(170,150,215,0.35)"),
    note(692, 183, "◀", size=15, color="rgba(240,120,120,0.3)"),
    note(690, 194, "Aug 1, 2023", size=17, color="rgba(240,120,120,0.22)"),
    note(693, 213, "Fitch Downgrades US", size=17, color="rgba(240,120,120,0.22)"),
    note(803, 185, "4,915 Bear Market", size=14, color="rgba(240,120,120,0.3)"),
    note(930, 305, "May 16, 2025", size=14, color="rgba(170,150,225,0.4)"),
    note(930, 318, "Moody's", size=14, color="rgba(170,150,225,0.4)"),
    note(930, 332, "Downgrades US", size=14, color="rgba(170,150,225,0.4)"),
    note(848, 345, "US announces", size=13, color="rgba(175,140,140,0.28)", xanchor="center"),
    note(848, 358, "Liberation Day", size=13, color="rgba(175,140,140,0.28)", xanchor="center"),
    note(848, 371, "Reciprocal Tariffs", size=13, color="rgba(175,140,140,0.28)", xanchor="center"),
    # price scale labels
    note(1019, 47, "SPX", size=11, color="white", xanchor="center", bgcolor="#b5222c", width=22, height=15, borderpad=0),
    note(1058, 47, f"{closes[n-1]:,.2f}", size=11, color="white", xanchor="center", bgcolor="#b5222c",
         width=50, height=15, borderpad=0),
    note(1054, 315, f"{volume_b[n-1]:.2f}B", size=11, color="white", xanchor="center", bgcolor="#f23645",
         width=42, height=14, borderpad=0),
    note(1048, 524, f"{atr_v[-1]:.2f}", size=11, color="white", xanchor="center", bgcolor="#2962ff",
         width=30, height=14, borderpad=0),
    note(1048, 541, f"{range_v[-1]:.2f}", size=11, color="white", xanchor="center", bgcolor="#9c27b0",
         width=30, height=14, borderpad=0),
    note(12, 546, "<b>17</b>", size=15, color="#111"),
    note(1062, 575, "⚙", size=13, color="#666", xanchor="center"),
]
for name, lvl in zip(fib_names, fib_levels):
    col = "rgba(120,120,140,0.55)" if name in ("0", "1") else "rgba(200,120,220,0.6)"
    ann.append(dict(x=px(905, 0)[0], y=lvl, xref="paper", yref="y3", text=f"{name} ({lvl:,.2f})",
                    showarrow=False, xanchor="right", yanchor="middle",
                    font=dict(size=10, color=col, family=FONT)))

price_ticks = list(range(2000, 7201, 400))
price_text = ["" if v in (2800, 6800, 7200) else f"{v:,.2f}" for v in price_ticks]
years = list(range(2018, 2027))
x_ticks, x_text = [], []
for yr in years:
    x_ticks.append(f"{yr}-01-01")
    x_text.append(f"<b>{yr}</b>")
    if yr < 2026:
        x_ticks.append(f"{yr}-07-01")
        x_text.append("Jul")

grid = "#eef0f4"
fig.update_layout(
    width=1088, height=587,
    margin=dict(l=0, r=56, t=0, b=25),
    paper_bgcolor="white", plot_bgcolor="white",
    showlegend=False, bargap=0,
    font=dict(family=FONT, size=11, color="#131722"),
    xaxis=dict(type="date", range=["2017-11-08", "2026-03-30"], anchor="y2",
               tickvals=x_ticks, ticktext=x_text, showgrid=True, gridcolor=grid,
               zeroline=False, showline=False, ticks="outside", ticklen=3, tickcolor="white",
               rangeslider=dict(visible=False), tickfont=dict(size=11.5)),
    yaxis=dict(domain=[0.3114, 1], range=[0, 105.2], visible=False, fixedrange=True),
    yaxis3=dict(overlaying="y", side="right", range=[1650, 7542], tickvals=price_ticks, ticktext=price_text,
                showgrid=True, gridcolor=grid, zeroline=False, ticklabelstandoff=4, tickfont=dict(size=11)),
    yaxis2=dict(domain=[0, 0.3078], side="right", range=[-2.88, 21.48],
                tickvals=[0.78, 5.43, 10.07, 14.72, 19.37], ticktext=["", "0", "0", "0", "0"],
                showgrid=True, gridcolor=grid, zeroline=False, ticklabelstandoff=8, tickfont=dict(size=11)),
    shapes=shapes,
    annotations=ann,
)

fig.write_html("out.html", config={"displayModeBar": False},
               post_script="document.body.style.margin='0px';")
